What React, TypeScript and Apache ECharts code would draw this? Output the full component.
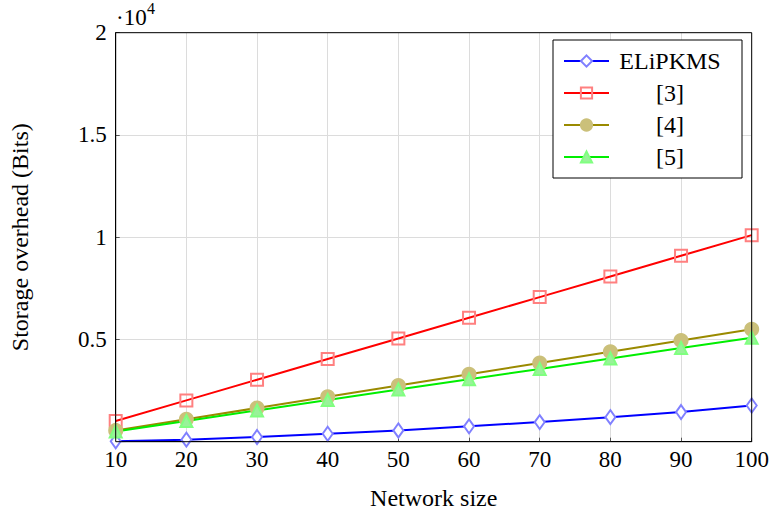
import React, { useEffect, useRef } from "react";
import * as echarts from "echarts";

const networkSizes = [10, 20, 30, 40, 50, 60, 70, 80, 90, 100];
const elipkms = [20, 100, 230, 390, 550, 750, 960, 1200, 1450, 1770];
const ref3 = [1010, 2020, 3030, 4040, 5050, 6060, 7070, 8080, 9090, 10100];
const ref4 = [550, 1100, 1650, 2200, 2750, 3300, 3850, 4400, 4950, 5500];
const ref5 = [500, 1010, 1530, 2040, 2550, 3050, 3560, 4070, 4580, 5080];
const yTickLabels: Record<number, string> = { 0: "", 5000: "0.5", 10000: "1", 15000: "1.5", 20000: "2" };

const FONT = "'Liberation Serif', 'DejaVu Serif', serif";

export default function App() {
  const ref = useRef<HTMLDivElement>(null);
  useEffect(() => {
    if (!ref.current) return;
    const chart = echarts.init(ref.current, null, { renderer: "svg" });
    const mk = (name: string, data: number[], lineColor: string, symbol: string, size: any, fill: string, stroke: string) => ({
      name,
      type: "line",
      data: networkSizes.map((x, i) => [x, data[i]]),
      symbol,
      symbolSize: size,
      showAllSymbol: true,
      lineStyle: { color: lineColor, width: 2 },
      itemStyle: { color: fill, borderColor: stroke, borderWidth: 2 },
      emphasis: { disabled: true },
      z: 3,
    });
    chart.setOption({
      animation: false,
      backgroundColor: "#fff",
      textStyle: { fontFamily: FONT, color: "#000" },
      grid: {
        left: 115.7,
        top: 32.7,
        right: 19.3,
        bottom: 72.3,
        containLabel: false,
        outerBoundsMode: "none",
        show: true,
        borderColor: "#000",
        borderWidth: 1,
        backgroundColor: "transparent",
        z: 5,
      },
      xAxis: {
        type: "value",
        min: 10,
        max: 100,
        interval: 10,
        name: "Network size",
        nameLocation: "middle",
        nameGap: 44,
        nameTextStyle: { fontFamily: FONT, fontSize: 24, color: "#000" },
        axisLine: { show: true, lineStyle: { color: "#000", width: 1 } },
        axisTick: { show: true, inside: true, length: 4, lineStyle: { color: "#555" } },
        axisLabel: { fontFamily: FONT, fontSize: 23, color: "#000", margin: 6 },
        splitLine: { show: true, lineStyle: { color: "#dcdcdc", width: 1 } },
      },
      yAxis: {
        type: "value",
        min: 0,
        max: 20000,
        interval: 5000,
        name: "Storage overhead (Bits)",
        nameLocation: "middle",
        nameGap: 84,
        nameRotate: 90,
        nameTextStyle: { fontFamily: FONT, fontSize: 24, color: "#000" },
        axisLine: { show: true, lineStyle: { color: "#000", width: 1 } },
        axisTick: { show: true, inside: true, length: 4, lineStyle: { color: "#555" } },
        axisLabel: { fontFamily: FONT, fontSize: 23, color: "#000", margin: 9, formatter: (v: number) => yTickLabels[v] ?? String(v / 10000) },
        splitLine: { show: true, lineStyle: { color: "#dcdcdc", width: 1 } },
      },
      legend: {
        orient: "vertical",
        left: 553,
        top: 40,
        backgroundColor: "#fff",
        borderColor: "#000",
        borderWidth: 1,
        padding: [9, 16, 9, 10],
        itemWidth: 45,
        itemHeight: 14,
        itemGap: 8,
        itemTextGap: 5,
        selectedMode: false,
        formatter: "{c|{name}}",
        textStyle: {
          fontFamily: FONT,
          fontSize: 24,
          color: "#000",
          rich: { c: { width: 112, align: "center", fontFamily: FONT, fontSize: 24, lineHeight: 22, color: "#000" } },
        },
        z: 10,
      },
      graphic: [
        {
          type: "text",
          x: 116,
          y: 17,
          style: { text: "·10", fontFamily: FONT, fontSize: 23, fill: "#000", verticalAlign: "middle", align: "left" },
          z: 20,
        },
        {
          type: "text",
          x: 147,
          y: 8,
          style: { text: "4", fontFamily: FONT, fontSize: 16, fill: "#000", verticalAlign: "middle", align: "left" },
          z: 20,
        },
      ],
      series: [
        mk("ELiPKMS", elipkms, "#0000ff", "diamond", [10, 14], "#ffffff", "#8080ff"),
        mk("[3]", ref3, "#ff0000", "rect", 12, "rgba(255,255,255,0)", "#ff8080"),
        mk("[4]", ref4, "#9a8a00", "circle", 13, "#cbc07a", "#cbc07a"),
        mk("[5]", ref5, "#00ee00", "triangle", 12, "#99f299", "#80ff80"),
      ],
    });
    return () => chart.dispose();
  }, []);
  return <div ref={ref} style={{ position: "fixed", left: 0, top: 0, width: 771, height: 514 }} />;
}
